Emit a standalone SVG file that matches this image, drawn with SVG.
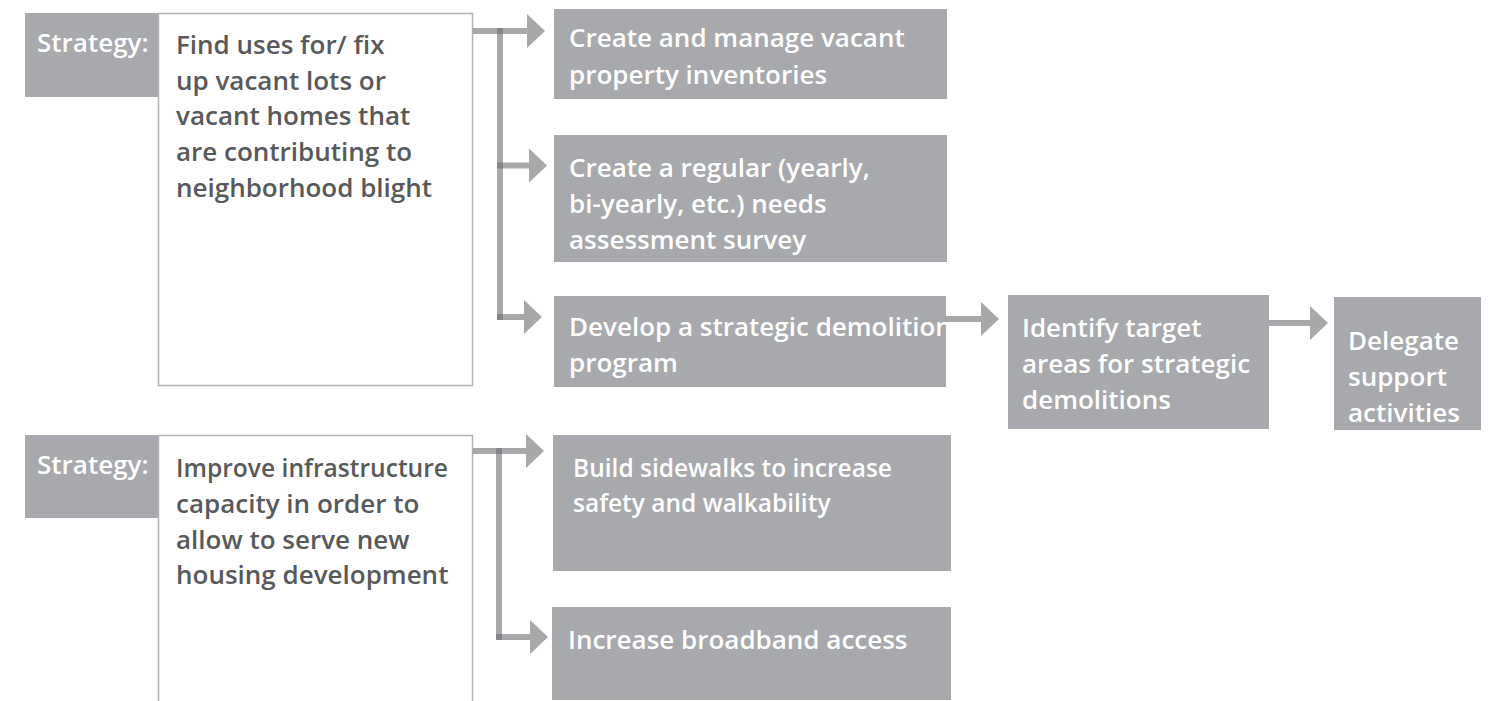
<svg xmlns="http://www.w3.org/2000/svg" width="1492" height="701" viewBox="0 0 1492 701">
  <style>
    .label { fill: #a7a9ac; }
    .label-text { fill: #ffffff; font-family: "Open Sans", "Liberation Sans", sans-serif; font-weight: 600; font-size: 26px; }
    .strategy { fill: #ffffff; stroke: #b1b3b6; stroke-width: 1.5; }
    .strategy-text { fill: #58595b; font-family: "Open Sans", "Liberation Sans", sans-serif; font-weight: 600; font-size: 26px; }
    .action { fill: #a7a9ac; }
    .action-text { fill: #ffffff; font-family: "Open Sans", "Liberation Sans", sans-serif; font-weight: 600; font-size: 26px; }
    .small { font-size: 24.5px; }
    .link { fill: none; stroke: #6d6e71; stroke-opacity: 0.6; stroke-width: 6; stroke-linecap: butt; }
  </style>
  <defs>
    <marker id="head" markerUnits="userSpaceOnUse" markerWidth="18" markerHeight="34" viewBox="0 0 18 34" refX="0" refY="17" orient="auto">
      <path d="M0,0 L18,17 L0,34 Z" fill="#6d6e71" fill-opacity="0.6"/>
    </marker>
  </defs>

  <rect width="1492" height="701" fill="#ffffff"/>

  <!-- Strategy 1 -->
  <g id="strategy-1">
    <rect class="label" x="25" y="13" width="133" height="84"/>
    <text class="label-text" x="37" y="52">Strategy:</text>
    <rect class="strategy" x="158.5" y="13.5" width="314" height="372"/>
    <text class="strategy-text">
      <tspan x="176" y="54">Find uses for/ fix</tspan>
      <tspan x="176" y="90">up vacant lots or</tspan>
      <tspan x="176" y="125">vacant homes that</tspan>
      <tspan x="176" y="161">are contributing to</tspan>
      <tspan x="176" y="197">neighborhood blight</tspan>
    </text>
  </g>

  <g id="inventories">
    <rect class="action" x="554" y="9" width="393" height="90"/>
    <text class="action-text">
      <tspan x="569" y="47">Create and manage vacant</tspan>
      <tspan x="569" y="84">property inventories</tspan>
    </text>
  </g>

  <g id="needs-survey">
    <rect class="action" x="554" y="135" width="393" height="127"/>
    <text class="action-text">
      <tspan x="569" y="177">Create a regular (yearly,</tspan>
      <tspan x="569" y="213">bi-yearly, etc.) needs</tspan>
      <tspan x="569" y="249">assessment survey</tspan>
    </text>
  </g>

  <g id="demolition-program">
    <rect class="action" x="554" y="296" width="392" height="91"/>
    <text class="action-text">
      <tspan x="569" y="336">Develop a strategic demolition</tspan>
      <tspan x="569" y="372">program</tspan>
    </text>
  </g>

  <g id="target-areas">
    <rect class="action" x="1008" y="295" width="261" height="134"/>
    <text class="action-text">
      <tspan x="1022" y="337">Identify target</tspan>
      <tspan x="1022" y="373">areas for strategic</tspan>
      <tspan x="1022" y="409">demolitions</tspan>
    </text>
  </g>

  <g id="support-activities">
    <rect class="action" x="1334" y="297" width="147" height="133"/>
    <text class="action-text">
      <tspan x="1348" y="350">Delegate</tspan>
      <tspan x="1348" y="386">support</tspan>
      <tspan x="1348" y="422">activities</tspan>
    </text>
  </g>

  <!-- Strategy 2 -->
  <g id="strategy-2">
    <rect class="label" x="25" y="435" width="133" height="83"/>
    <text class="label-text" x="37" y="474">Strategy:</text>
    <rect class="strategy" x="158.5" y="435.5" width="314" height="300"/>
    <text class="strategy-text">
      <tspan x="176" y="477" textLength="272" lengthAdjust="spacingAndGlyphs">Improve infrastructure</tspan>
      <tspan x="176" y="513">capacity in order to</tspan>
      <tspan x="176" y="549">allow to serve new</tspan>
      <tspan x="176" y="584">housing development</tspan>
    </text>
  </g>

  <g id="sidewalks">
    <rect class="action" x="553" y="435" width="398" height="136"/>
    <text class="action-text small">
      <tspan x="573" y="477">Build sidewalks to increase</tspan>
      <tspan x="573" y="512">safety and walkability</tspan>
    </text>
  </g>

  <g id="broadband">
    <rect class="action" x="552" y="607" width="399" height="93"/>
    <text class="action-text" x="568" y="649">Increase broadband access</text>
  </g>

  <!-- Connectors -->
  <g id="connectors">
    <path class="link" d="M473,31 H527" marker-end="url(#head)"/>
    <path class="link" d="M500,28 V320"/>
    <path class="link" d="M497,165.5 H529" marker-end="url(#head)"/>
    <path class="link" d="M497,317 H524" marker-end="url(#head)"/>
    <path class="link" d="M946,319 H981" marker-end="url(#head)"/>
    <path class="link" d="M1269,323 H1310" marker-end="url(#head)"/>

    <path class="link" d="M473,451 H526" marker-end="url(#head)"/>
    <path class="link" d="M499,448 V640"/>
    <path class="link" d="M496,637 H530" marker-end="url(#head)"/>
  </g>
</svg>
